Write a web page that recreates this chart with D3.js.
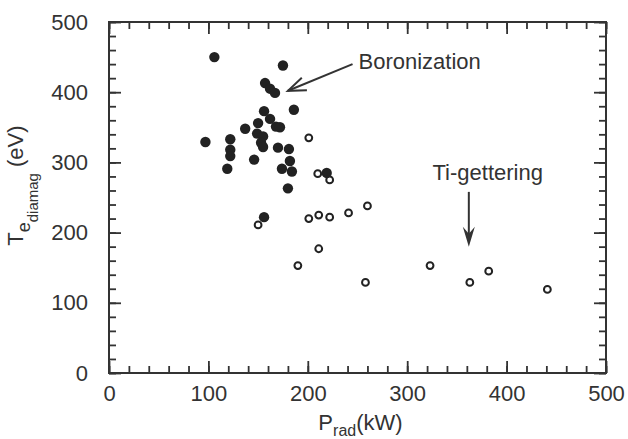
<!DOCTYPE html>
<html>
<head>
<meta charset="utf-8">
<script src="https://cdn.jsdelivr.net/npm/d3@7"></script>
<style>
  body { margin: 0; background: #fff; }
  svg { display: block; }
  text { font-family: "Liberation Sans", Arial, Helvetica, sans-serif; fill: #333; }
</style>
</head>
<body>
<svg id="chart" width="628" height="439"></svg>
<script>
// boronization shots (filled dots)
const boronP = [106, 175, 157, 162, 167, 186, 156, 162, 150, 168, 172, 137, 149, 155, 153, 155,
                97, 122, 122, 122, 146, 170, 181, 182, 119, 174, 184, 180, 156, 219];
const boronT = [450, 438, 413, 405, 399, 375, 373, 362, 356, 351, 350, 348, 341, 337, 328, 322,
                329, 333, 318, 309, 304, 321, 319, 302, 291, 291, 287, 263, 222, 285];

// Ti-gettering shots (open circles)
const tiP = [201, 210, 222, 201, 211, 222, 241, 260, 150, 211, 190, 258, 323, 363, 382, 441];
const tiT = [335, 284, 275, 220, 225, 222, 228, 238, 211, 177, 153, 129, 153, 129, 145, 119];

const xMajor = [0, 100, 200, 300, 400, 500];
const yMajor = [0, 100, 200, 300, 400, 500];
const minorTicks = d3.range(0, 501, 20);

const svg = d3.select("#chart");
const m = { left: 109, top: 22, right: 22, bottom: 66 };
const W = 628 - m.left - m.right;   // plot width
const H = 439 - m.top - m.bottom;   // plot height

const x = d3.scaleLinear().domain([0, 500]).range([0, W]);
const y = d3.scaleLinear().domain([0, 500]).range([H, 0]);

const g = svg.append("g").attr("transform", `translate(${m.left},${m.top})`);

// ticks pointing inward on all four sides
function ticks(axisFn, scale, vals, len, tf, labels) {
  const a = axisFn(scale).tickValues(vals).tickSize(-len).tickPadding(14);
  if (!labels) a.tickFormat("");
  const el = g.append("g").attr("transform", tf).call(a);
  el.select(".domain").remove();
  el.selectAll("line").attr("stroke", "#333").attr("stroke-width", 1.8);
  el.selectAll("text").attr("font-size", 22).style("fill", "#333");
  return el;
}
ticks(d3.axisBottom, x, minorTicks, 7, `translate(0,${H})`, false);
ticks(d3.axisTop, x, minorTicks, 7, `translate(0,0)`, false);
ticks(d3.axisLeft, y, minorTicks, 7, `translate(0,0)`, false);
ticks(d3.axisRight, y, minorTicks, 7, `translate(${W},0)`, false);
const xa = ticks(d3.axisBottom, x, xMajor, 12, `translate(0,${H})`, true);
ticks(d3.axisTop, x, xMajor, 12, `translate(0,0)`, false);
const ya = ticks(d3.axisLeft, y, yMajor, 12, `translate(0,0)`, true);
ticks(d3.axisRight, y, yMajor, 12, `translate(${W},0)`, false);
xa.selectAll("text").attr("y", 12).attr("dy", "0.71em");
ya.selectAll("text").attr("x", -21);

// frame
g.append("rect").attr("width", W).attr("height", H)
  .attr("fill", "none").attr("stroke", "#333").attr("stroke-width", 2);

// points
g.append("g").selectAll("circle").data(boronP.map((p, i) => [p, boronT[i]]))
  .join("circle")
  .attr("cx", d => x(d[0])).attr("cy", d => y(d[1])).attr("r", 5.2)
  .attr("fill", "#222");

g.append("g").selectAll("circle").data(tiP.map((p, i) => [p, tiT[i]]))
  .join("circle")
  .attr("cx", d => x(d[0])).attr("cy", d => y(d[1])).attr("r", 3.4)
  .attr("fill", "none").attr("stroke", "#222").attr("stroke-width", 2);

// annotations
g.append("text").attr("x", x(251)).attr("y", y(433)).attr("font-size", 22).text("Boronization");
const a0 = [x(245), y(440)], a1 = [x(180), y(402)];
g.append("line").attr("x1", a0[0]).attr("y1", a0[1]).attr("x2", a1[0]).attr("y2", a1[1])
  .attr("stroke", "#333").attr("stroke-width", 2);
const ang = Math.atan2(a0[1] - a1[1], a0[0] - a1[0]);
const wing = s => [a1[0] + 19 * Math.cos(ang + s), a1[1] + 19 * Math.sin(ang + s)];
g.append("path")
  .attr("d", `M${wing(0.36)}L${a1}L${wing(-0.36)}`)
  .attr("fill", "none").attr("stroke", "#333").attr("stroke-width", 2);

g.append("text").attr("x", x(381)).attr("y", y(275)).attr("font-size", 22)
  .attr("text-anchor", "middle").text("Ti-gettering");
const tx = x(362), ty0 = y(258), ty1 = y(180);
g.append("line").attr("x1", tx).attr("y1", ty0).attr("x2", tx).attr("y2", ty1 - 8)
  .attr("stroke", "#333").attr("stroke-width", 2);
g.append("path")
  .attr("d", `M${tx},${ty1}L${tx - 6},${ty1 - 20}L${tx},${ty1 - 13}L${tx + 6},${ty1 - 20}Z`)
  .attr("fill", "#333");

// axis titles
const xt = svg.append("text").attr("x", m.left + x(253)).attr("y", 430)
  .attr("font-size", 22).attr("text-anchor", "middle");
xt.append("tspan").text("P");
xt.append("tspan").attr("font-size", 16).attr("dy", 6).text("rad");
xt.append("tspan").attr("dy", -6).text("(kW)");

const yt = svg.append("text").attr("transform", `translate(23,${m.top + y(267)}) rotate(-90)`)
  .attr("font-size", 22).attr("text-anchor", "middle");
yt.append("tspan").text("T");
yt.append("tspan").attr("font-size", 18).attr("dy", 7).text("e");
yt.append("tspan").attr("font-size", 15).attr("dy", 8).text("diamag");
yt.append("tspan").attr("dy", -15).text(" (eV)");
</script>
</body>
</html>
